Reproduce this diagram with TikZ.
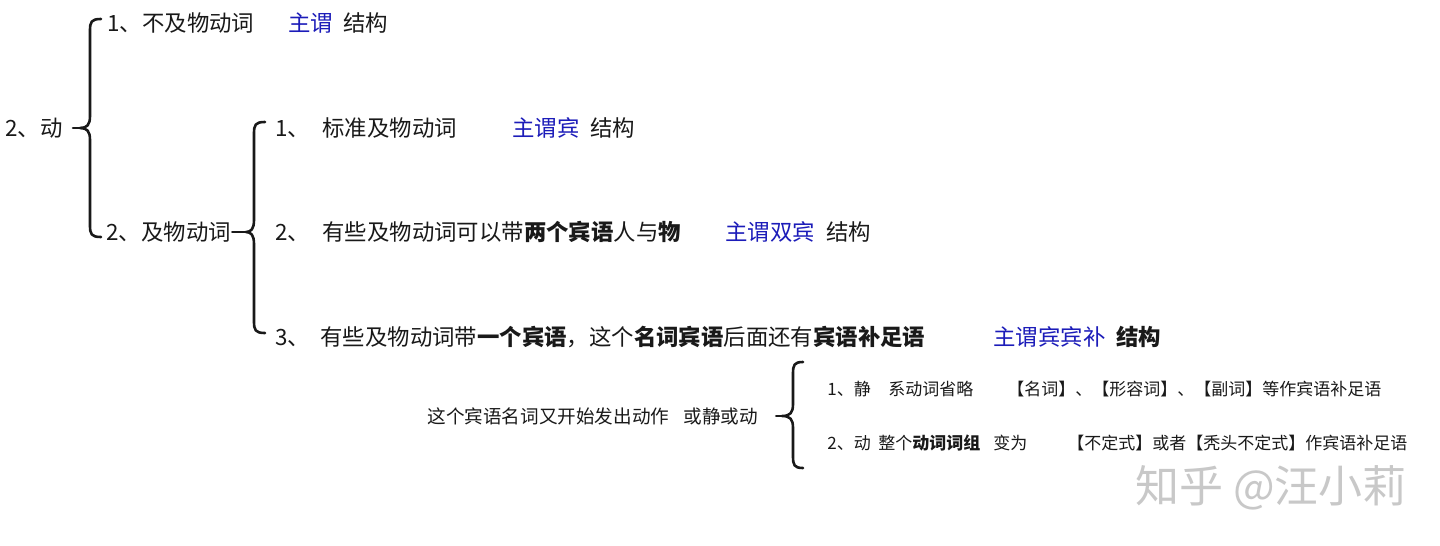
\documentclass[tikz,border=0pt]{standalone}
\usepackage{fontspec}
\setmainfont{Noto Sans CJK SC}
\definecolor{ink}{RGB}{25,25,25}
\definecolor{blu}{RGB}{28,28,185}
\definecolor{wmgray}{RGB}{200,200,200}
\tikzset{
  t/.style={anchor=west, inner sep=0pt, text height=9.85pt, text depth=1.35pt, font=\fontsize{11.2pt}{13pt}\selectfont, text=ink},
  tb/.style={t, text=blu},
  s/.style={anchor=west, inner sep=0pt, text height=7.5pt, text depth=1.0pt, font=\fontsize{8.5pt}{10pt}\selectfont, text=ink},
  m/.style={anchor=west, inner sep=0pt, text height=8.2pt, text depth=1.1pt, font=\fontsize{9.3pt}{11pt}\selectfont, text=ink},
  bl/.style={draw=ink, line width=1.3pt, line cap=round, line join=round},
}
\newcommand\mybrace[6]{%
  \draw[bl] (#3,#4) .. controls (#2+1,#4) and (#2,#4+3) .. (#2,#4+12) -- (#2,#5-12)
    .. controls (#2,#5-3) and (#2-3,#5) .. (#1,#5)
    .. controls (#2-3,#5) and (#2,#5+3) .. (#2,#5+12) -- (#2,#6-12)
    .. controls (#2,#6-3) and (#2+1,#6) .. (#3,#6);}
\begin{document}
\begin{tikzpicture}[x=0.5pt,y=-0.5pt]
\fill[white] (0,0) rectangle (1440,546);
\useasboundingbox (0,0) rectangle (1440,546);
% level 0
\node[t] (dong) at (5,128) {2、动};
% level 1
\node[t] (n1) at (107,23) {1、不及物动词};
\node[tb] (n1a) at (288,23) {主谓};
\node[t] (n1b) at (343,23) {结构};
\node[t] (n2) at (106,232) {2、及物动词};
% level 2
\node[t] (a1) at (275,128) {1、};
\node[t] (a1t) at (322,128) {标准及物动词};
\node[tb] (a1a) at (512,128) {主谓宾};
\node[t] (a1b) at (590,128) {结构};
\node[t] (a2) at (275,232) {2、};
\node[t] (a2t) at (322,232) {有些及物动词可以带\textbf{两个宾语}人与\textbf{物}};
\node[tb] (a2a) at (725,232) {主谓双宾};
\node[t] (a2b) at (826,232) {结构};
\node[t] (a3) at (275,337) {3、};
\node[t] (a3t) at (320,337) {有些及物动词带\textbf{一个宾语}，这个\textbf{名词宾语}后面还有\textbf{宾语补足语}};
\node[tb] (a3a) at (993,337) {主谓宾宾补};
\node[t] (a3b) at (1116,337) {\textbf{结构}};
% level 3
\node[m] (q1) at (427,416) {这个宾语名词又开始发出动作};
\node[m] (q2) at (683,416) {或静或动};
\node[s] (c1) at (827,389) {1、静};
\node[s] (c1a) at (888,389) {系动词省略};
\node[s] (c1b) at (1007,389) {【名词】、【形容词】、【副词】等作宾语补足语};
\node[s] (c2) at (827,443) {2、动};
\node[s] (c2a) at (878,443) {整个\textbf{动词词组}};
\node[s] (c2b) at (993,443) {变为};
\node[s] (c2c) at (1067,443) {【不定式】或者【秃头不定式】作宾语补足语};
% watermark
\node[anchor=west, inner sep=0pt, text=wmgray, font=\fontsize{22pt}{26pt}\selectfont] (wm) at (1135,488) {知乎 @汪小莉};
% braces
\coordinate (b1) at (80,128);
\coordinate (b2) at (246,232);
\coordinate (b3) at (782,416);
\mybrace{80}{90}{101}{19}{128}{237}
\mybrace{246}{254}{265}{122}{232}{333}
\mybrace{782}{793}{803}{362}{416}{468}
\draw[bl, shorten <=5pt] (dong.east) -- (b1);
\draw[bl, shorten <=0.5pt] (n2.east) -- (b2);
\draw[bl, shorten <=9pt] (q2.east) -- (b3);
\end{tikzpicture}
\end{document}
